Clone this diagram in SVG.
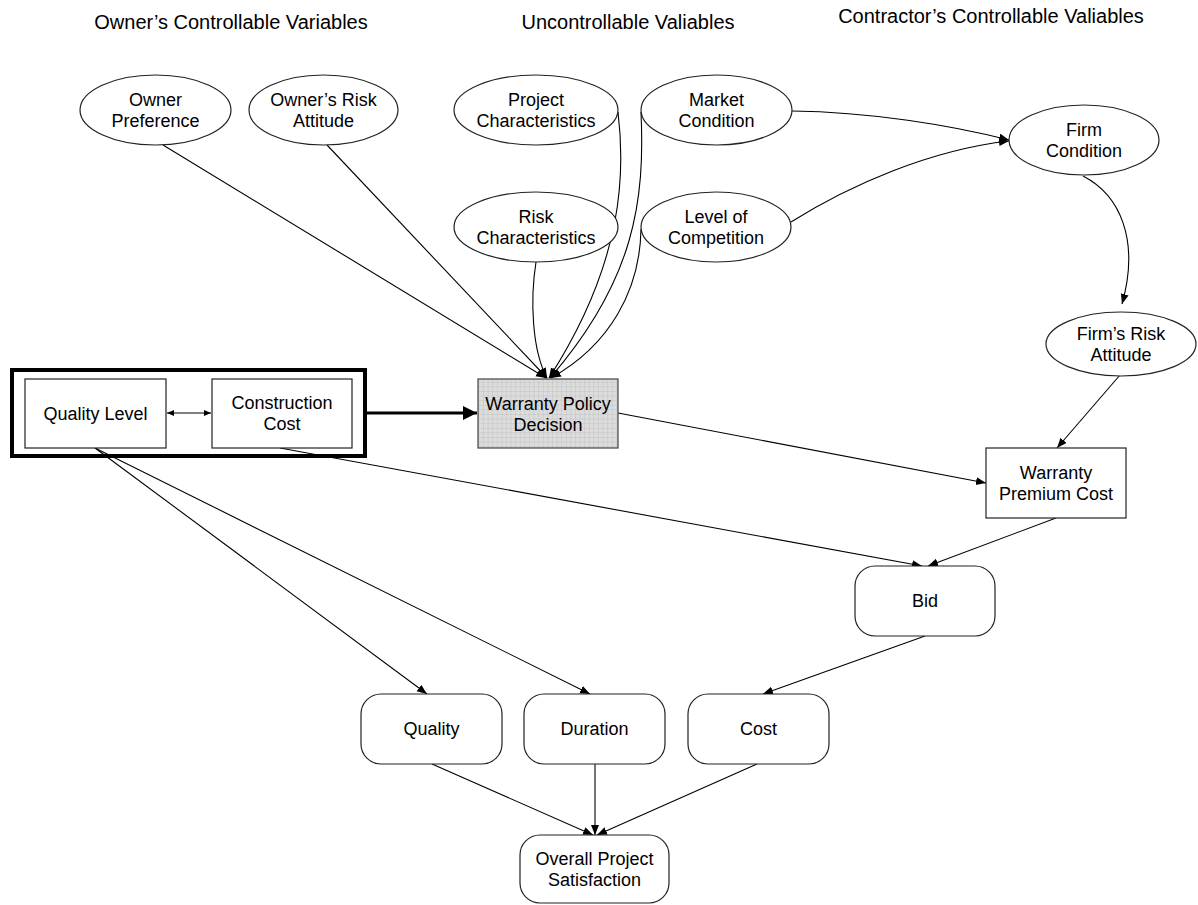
<svg xmlns="http://www.w3.org/2000/svg" width="1198" height="905" viewBox="0 0 1198 905">
  <style>
    text { font-family: "Liberation Sans", Arial, sans-serif; fill: #000; text-anchor: middle; }
    .title { font-size: 20px; }
    .lbl { font-size: 18px; }
    .node { fill: #fff; stroke: #222; stroke-width: 1.2; }
    .edge { fill: none; stroke: #000; stroke-width: 1.1; }
  </style>
  <defs>
    <marker id="arr" markerUnits="userSpaceOnUse" markerWidth="11" markerHeight="9" refX="10" refY="4" orient="auto">
      <path d="M0,0 L10,4 L0,8 z" fill="#000"/>
    </marker>
    <marker id="arrS" markerUnits="userSpaceOnUse" markerWidth="8" markerHeight="7" refX="7" refY="3" orient="auto-start-reverse">
      <path d="M0,0 L7,3 L0,6 z" fill="#000"/>
    </marker>
    <marker id="arrBig" markerUnits="userSpaceOnUse" markerWidth="15" markerHeight="15" refX="14" refY="7" orient="auto">
      <path d="M0,0 L14,7 L0,14 z" fill="#000"/>
    </marker>
    <pattern id="grid" patternUnits="userSpaceOnUse" width="4.6" height="4.6">
      <rect width="4.6" height="4.6" fill="#dcdcdc"/>
      <path d="M0,0 H4.6 M0,0 V4.6" stroke="#b4b4b4" stroke-width="0.6"/>
    </pattern>
  </defs>

  <!-- group headings -->
  <g id="headings">
    <text class="title" x="231" y="29">Owner’s Controllable Variables</text>
    <text class="title" x="628" y="29">Uncontrollable Valiables</text>
    <text class="title" x="991" y="23">Contractor’s Controllable Valiables</text>
  </g>

  <!-- connectors -->
  <g id="connectors">
    <path class="edge" d="M163,145 L546,378" marker-end="url(#arr)"/>
    <path class="edge" d="M327,145 L547,378" marker-end="url(#arr)"/>
    <path class="edge" d="M536,262 C530,300 532,350 547,378" marker-end="url(#arr)"/>
    <path class="edge" d="M618,112 C625,170 625,260 549,378" marker-end="url(#arr)"/>
    <path class="edge" d="M641,112 C645,200 635,280 550,378" marker-end="url(#arr)"/>
    <path class="edge" d="M641,229 C640,290 610,345 551,378" marker-end="url(#arr)"/>
    <path class="edge" d="M792,111 C870,112 950,125 1009,140" marker-end="url(#arr)"/>
    <path class="edge" d="M791,222 C850,185 930,150 1009,141" marker-end="url(#arr)"/>
    <path class="edge" d="M1083,176 C1120,195 1140,240 1122,304" marker-end="url(#arr)"/>
    <path class="edge" d="M1120,375 L1057,448" marker-end="url(#arr)"/>
    <path class="edge" d="M618,413 L986,483" marker-end="url(#arr)"/>
    <path class="edge" d="M280,448 L922,566" marker-end="url(#arr)"/>
    <path class="edge" d="M1056,518 L928,566" marker-end="url(#arr)"/>
    <path class="edge" d="M925,636 L763,694" marker-end="url(#arr)"/>
    <path class="edge" d="M95,448 L427,694" marker-end="url(#arr)"/>
    <path class="edge" d="M95,448 L590,694" marker-end="url(#arr)"/>
    <path class="edge" d="M432,764 L593,835" marker-end="url(#arr)"/>
    <path class="edge" d="M595,764 L595,835" marker-end="url(#arr)"/>
    <path class="edge" d="M757,764 L597,835" marker-end="url(#arr)"/>
    <path class="edge" d="M167,413 L211,413" marker-start="url(#arrS)" marker-end="url(#arrS)"/>
    <path d="M367,413 L477,413" fill="none" stroke="#000" stroke-width="3.2" marker-end="url(#arrBig)"/>
  </g>

  <!-- owner-controlled ellipses -->
  <g id="owner-preference">
    <ellipse class="node" cx="155.5" cy="110" rx="75.5" ry="35"/>
    <text class="lbl" x="155.5" y="106">Owner</text>
    <text class="lbl" x="155.5" y="127">Preference</text>
  </g>
  <g id="owner-risk-attitude">
    <ellipse class="node" cx="323.5" cy="110" rx="74.5" ry="35"/>
    <text class="lbl" x="323.5" y="106">Owner’s Risk</text>
    <text class="lbl" x="323.5" y="127">Attitude</text>
  </g>

  <!-- uncontrollable ellipses -->
  <g id="project-characteristics">
    <ellipse class="node" cx="536" cy="110" rx="82" ry="35"/>
    <text class="lbl" x="536" y="106">Project</text>
    <text class="lbl" x="536" y="127">Characteristics</text>
  </g>
  <g id="market-condition">
    <ellipse class="node" cx="716.5" cy="110" rx="75.5" ry="35"/>
    <text class="lbl" x="716.5" y="106">Market</text>
    <text class="lbl" x="716.5" y="127">Condition</text>
  </g>
  <g id="risk-characteristics">
    <ellipse class="node" cx="536" cy="227" rx="82" ry="35"/>
    <text class="lbl" x="536" y="223">Risk</text>
    <text class="lbl" x="536" y="244">Characteristics</text>
  </g>
  <g id="level-of-competition">
    <ellipse class="node" cx="716" cy="227" rx="75" ry="35"/>
    <text class="lbl" x="716" y="223">Level of</text>
    <text class="lbl" x="716" y="244">Competition</text>
  </g>

  <!-- contractor-controlled ellipses -->
  <g id="firm-condition">
    <ellipse class="node" cx="1084" cy="140" rx="75" ry="35"/>
    <text class="lbl" x="1084" y="136">Firm</text>
    <text class="lbl" x="1084" y="157">Condition</text>
  </g>
  <g id="firm-risk-attitude">
    <ellipse class="node" cx="1121" cy="344" rx="75" ry="32"/>
    <text class="lbl" x="1121" y="340">Firm’s Risk</text>
    <text class="lbl" x="1121" y="361">Attitude</text>
  </g>

  <!-- decision group -->
  <g id="owner-decision-group">
    <rect x="12" y="370" width="353" height="86" fill="none" stroke="#000" stroke-width="4"/>
  </g>
  <g id="quality-level">
    <rect class="node" x="25" y="379" width="141" height="69"/>
    <text class="lbl" x="95.5" y="420">Quality Level</text>
  </g>
  <g id="construction-cost">
    <rect class="node" x="212" y="379" width="140" height="69"/>
    <text class="lbl" x="282" y="409">Construction</text>
    <text class="lbl" x="282" y="430">Cost</text>
  </g>
  <g id="warranty-policy-decision">
    <rect x="478" y="379" width="140" height="69" fill="url(#grid)" stroke="#444" stroke-width="1.2"/>
    <text class="lbl" x="548" y="410">Warranty Policy</text>
    <text class="lbl" x="548" y="431">Decision</text>
  </g>
  <g id="warranty-premium-cost">
    <rect class="node" x="986" y="448" width="140" height="70"/>
    <text class="lbl" x="1056" y="479">Warranty</text>
    <text class="lbl" x="1056" y="500">Premium Cost</text>
  </g>

  <!-- outcome nodes -->
  <g id="bid">
    <rect class="node" x="855" y="566" width="140" height="70" rx="20"/>
    <text class="lbl" x="925" y="607">Bid</text>
  </g>
  <g id="quality">
    <rect class="node" x="361" y="694" width="141" height="70" rx="20"/>
    <text class="lbl" x="431.5" y="735">Quality</text>
  </g>
  <g id="duration">
    <rect class="node" x="524" y="694" width="141" height="70" rx="20"/>
    <text class="lbl" x="594.5" y="735">Duration</text>
  </g>
  <g id="cost">
    <rect class="node" x="688" y="694" width="141" height="70" rx="20"/>
    <text class="lbl" x="758.5" y="735">Cost</text>
  </g>
  <g id="overall-project-satisfaction">
    <rect class="node" x="520" y="835" width="149" height="68" rx="20"/>
    <text class="lbl" x="594.5" y="865">Overall Project</text>
    <text class="lbl" x="594.5" y="886">Satisfaction</text>
  </g>
</svg>
